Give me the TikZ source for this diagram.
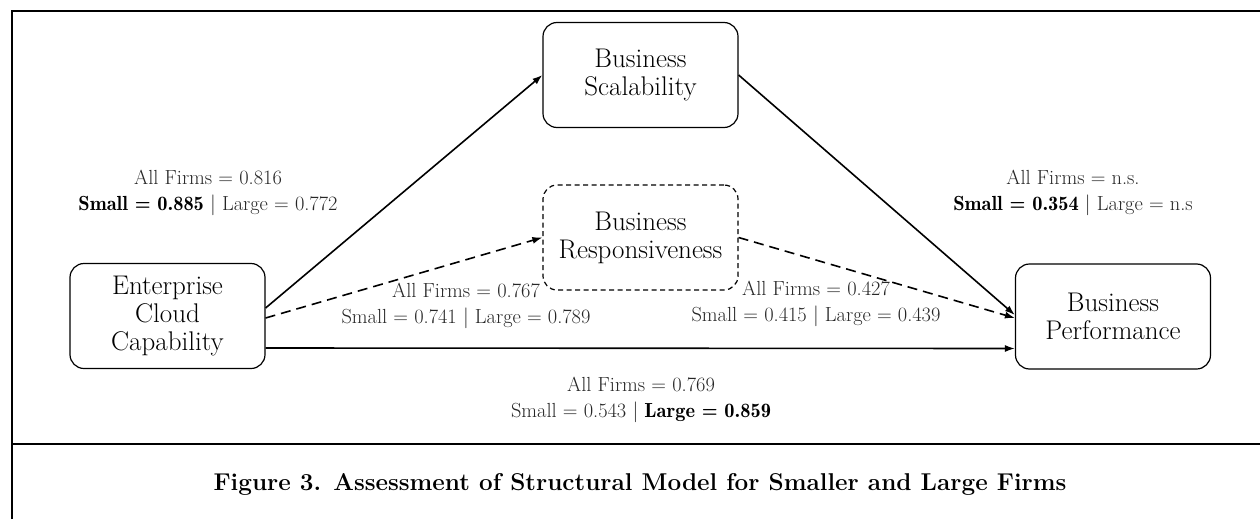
\documentclass[tikz,border=0pt]{standalone}
\usepackage{fontspec}
\usetikzlibrary{arrows.meta}
\newfontfamily\demifont{lmromandemi10-regular.otf}
\newcommand{\coefbold}[1]{{\demifont\color{black}#1}}
\begin{document}
\begin{tikzpicture}[x=1pt,y=-1pt,
  box/.style={draw, line width=1.2pt, rounded corners=14pt, minimum width=195pt,
    minimum height=105pt, align=center, inner sep=0pt,
    font=\fontsize{27}{28}\selectfont},
  dbox/.style={box, dash pattern=on 5pt off 3.5pt},
  link/.style={line width=1.6pt, -{Latex[length=10pt,width=7pt]}},
  dlink/.style={link, dash pattern=on 10pt off 6pt},
  coef/.style={align=center, inner sep=0pt, text=black!85,
    font=\fontsize{20.4}{26}\selectfont},
  frame/.style={line width=2.2pt}]
\useasboundingbox (0,0) rectangle (1260,519);

% outer frame and separator above the caption
\draw[frame] (12,519) -- (12,11) -- (1260,11);
\draw[frame] (12,444) -- (1260,444);

% constructs
\node[box]  (ecc) at (167.5,316) {Enterprise\\Cloud\\Capability};
\node[box]  (bs)  at (640.5,75)  {Business\\Scalability};
\node[dbox] (br)  at (640.5,237.5) {Business\\Responsiveness};
\node[box]  (bp)  at (1113,316.5) {Business\\Performance};

% paths
\draw[link]  ([yshift=8pt]ecc.east) -- (bs.west);
\draw[dlink] ([yshift=-2pt]ecc.east) -- (br.west);
\draw[link]  (bs.east) -- ([yshift=1.5pt]bp.west);
\draw[dlink] (br.east) -- ([yshift=-1.5pt]bp.west);
\draw[link]  ([yshift=-32pt]ecc.east) -- ([yshift=-32pt]bp.west);

% path coefficients
\node[coef] (c1) at (208,193) {All Firms = 0.816\\\coefbold{Small = 0.885} $|$ Large = 0.772};
\node[coef] (c2) at (1073,193) {All Firms = n.s.\\\coefbold{Small = 0.354} $|$ Large = n.s};
\node[coef] (c3) at (466,306) {All Firms = 0.767\\Small = 0.741 $|$ Large = 0.789};
\node[coef] (c4) at (816,304) {All Firms = 0.427\\Small = 0.415 $|$ Large = 0.439};
\node[coef] (c5) at (641,400) {All Firms = 0.769\\Small = 0.543 $|$ \coefbold{Large = 0.859}};

% caption
\node[font=\fontsize{24.3}{30}\selectfont\bfseries] (cap) at (640,484)
  {Figure 3. Assessment of Structural Model for Smaller and Large Firms};
\end{tikzpicture}
\end{document}
